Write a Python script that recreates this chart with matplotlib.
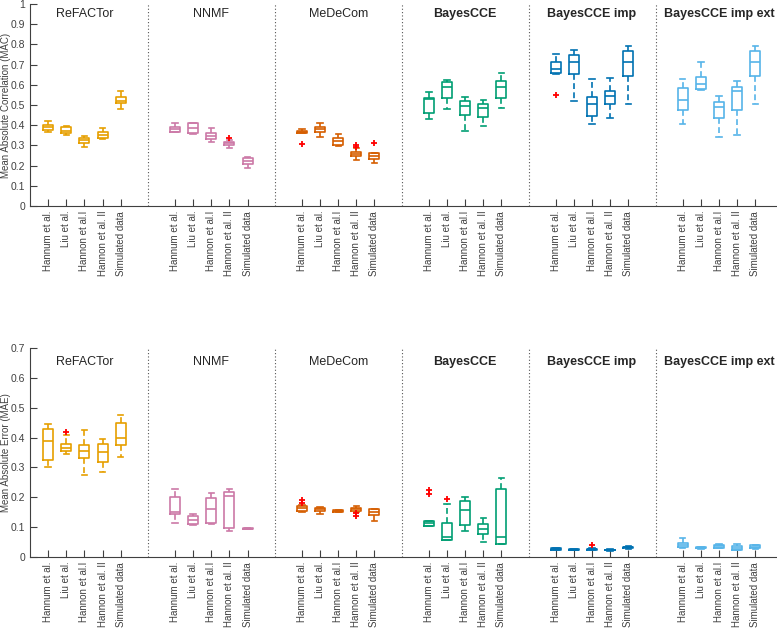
import matplotlib
matplotlib.use('Agg')
import matplotlib.pyplot as plt

# ------------------------------------------------------------------ #
#                              Data                                  #
# ------------------------------------------------------------------ #

methods = ['ReFACTor', 'NNMF', 'MeDeCom', 'BayesCCE', 'BayesCCE imp', 'BayesCCE imp ext']
datasets = ['Hannum et al.', 'Liu et al.', 'Hannon et al.I', 'Hannon et al. II', 'Simulated data']
colors = ['#E69F00', '#CC79A7', '#D55E00', '#009E73', '#0072B2', '#56B4E9']
bold_titles = [False, False, False, True, True, True]

# MAC (top panel): 6 methods x 5 datasets, in order
mac_lo = [0.366, 0.352, 0.294, 0.333, 0.479,
          0.365, 0.357, 0.315, 0.289, 0.190,
          0.360, 0.343, 0.297, 0.228, 0.211,
          0.432, 0.480, 0.373, 0.396, 0.487,
          0.652, 0.521, 0.406, 0.437, 0.503,
          0.406, 0.573, 0.343, 0.350, 0.503]
mac_q1 = [0.378, 0.360, 0.314, 0.335, 0.508,
          0.368, 0.360, 0.332, 0.302, 0.208,
          0.360, 0.365, 0.304, 0.248, 0.231,
          0.459, 0.533, 0.450, 0.439, 0.533,
          0.660, 0.653, 0.446, 0.505, 0.644,
          0.475, 0.578, 0.434, 0.475, 0.644]
mac_med = [0.390, 0.372, 0.327, 0.352, 0.521,
           0.380, 0.384, 0.347, 0.310, 0.223,
           0.366, 0.380, 0.320, 0.259, 0.248,
           0.528, 0.587, 0.495, 0.483, 0.587,
           0.678, 0.714, 0.503, 0.546, 0.713,
           0.525, 0.604, 0.492, 0.569, 0.713]
mac_q3 = [0.400, 0.390, 0.338, 0.368, 0.541,
          0.393, 0.409, 0.363, 0.318, 0.236,
          0.373, 0.389, 0.337, 0.269, 0.261,
          0.533, 0.616, 0.521, 0.505, 0.619,
          0.714, 0.746, 0.538, 0.571, 0.769,
          0.582, 0.637, 0.513, 0.587, 0.769]
mac_hi = [0.420, 0.398, 0.347, 0.384, 0.569,
          0.409, 0.412, 0.388, 0.325, 0.244,
          0.383, 0.413, 0.356, 0.287, 0.264,
          0.566, 0.622, 0.541, 0.525, 0.660,
          0.751, 0.772, 0.629, 0.632, 0.794,
          0.629, 0.713, 0.546, 0.621, 0.794]
mac_out = [[], [], [], [], [],
           [], [], [], [0.335], [],
           [0.307], [], [], [0.300, 0.292], [0.314],
           [], [], [], [], [],
           [0.550], [], [], [], [],
           [], [], [], [], []]

# MAE (bottom panel)
mae_lo = [0.302, 0.346, 0.275, 0.283, 0.335,
          0.114, 0.106, 0.111, 0.087, 0.094,
          0.152, 0.143, 0.149, 0.152, 0.121,
          0.105, 0.057, 0.088, 0.051, 0.044,
          0.024, 0.023, 0.023, 0.021, 0.028,
          0.030, 0.028, 0.030, 0.022, 0.028]
mae_q1 = [0.324, 0.356, 0.331, 0.318, 0.375,
          0.145, 0.110, 0.113, 0.096, 0.094,
          0.155, 0.153, 0.150, 0.154, 0.141,
          0.105, 0.057, 0.106, 0.078, 0.044,
          0.025, 0.024, 0.024, 0.022, 0.029,
          0.032, 0.029, 0.031, 0.023, 0.029]
mae_med = [0.387, 0.366, 0.356, 0.352, 0.400,
           0.149, 0.124, 0.160, 0.205, 0.095,
           0.163, 0.161, 0.153, 0.160, 0.150,
           0.115, 0.068, 0.158, 0.093, 0.066,
           0.027, 0.025, 0.026, 0.023, 0.032,
           0.040, 0.031, 0.036, 0.030, 0.033]
mae_q3 = [0.427, 0.378, 0.375, 0.378, 0.448,
          0.202, 0.136, 0.196, 0.217, 0.097,
          0.171, 0.165, 0.157, 0.165, 0.160,
          0.121, 0.113, 0.186, 0.110, 0.227,
          0.029, 0.026, 0.028, 0.025, 0.035,
          0.048, 0.033, 0.041, 0.036, 0.039]
mae_hi = [0.447, 0.408, 0.426, 0.396, 0.475,
          0.229, 0.144, 0.214, 0.228, 0.097,
          0.175, 0.167, 0.158, 0.171, 0.162,
          0.122, 0.178, 0.202, 0.130, 0.264,
          0.030, 0.027, 0.030, 0.026, 0.036,
          0.062, 0.034, 0.042, 0.045, 0.040]
mae_out = [[], [0.420], [], [], [],
           [], [], [], [], [],
           [0.191, 0.182], [], [], [0.146, 0.137], [],
           [0.225, 0.210], [0.195], [], [], [],
           [], [], [0.040], [], [],
           [], [], [], [], []]

# ------------------------------------------------------------------ #
#                              Plot                                  #
# ------------------------------------------------------------------ #

plt.rcParams['font.family'] = ['Liberation Sans', 'DejaVu Sans']
axis_color = '#404040'

positions = [7 * g + i + 1 for g in range(len(methods)) for i in range(len(datasets))]
labels = datasets * len(methods)

fig = plt.figure(figsize=(7.77, 6.28), dpi=100)
ax_top = fig.add_axes([0.0386, 0.672, 0.9614, 0.3216])
ax_bot = fig.add_axes([0.0386, 0.1131, 0.9614, 0.3328])


def draw_panel(ax, lo, q1, med, q3, hi, out, ymax, ylabel, title_y):
    for k, pos in enumerate(positions):
        col = colors[k // len(datasets)]
        stats = [dict(whislo=lo[k], q1=q1[k], med=med[k], q3=q3[k],
                      whishi=hi[k], fliers=out[k])]
        ax.bxp(stats, positions=[pos], widths=0.55, capwidths=0.3,
               showfliers=True, manage_ticks=False,
               boxprops=dict(color=col, linewidth=1.2),
               medianprops=dict(color=col, linewidth=1.2),
               whiskerprops=dict(color=col, linewidth=1.2, linestyle=(0, (3.5, 2))),
               capprops=dict(color=col, linewidth=1.2),
               flierprops=dict(marker='+', markeredgecolor='#ff0000',
                               markersize=5, markeredgewidth=1.3))

    for g in range(1, len(methods)):
        ax.axvline(7 * g - 0.5, color='#555555', linestyle=(0, (1, 2)), linewidth=0.8)

    for g, name in enumerate(methods):
        ax.text(7 * g + 3, title_y, name, ha='center', va='center', fontsize=9,
                color='#262626', fontweight='bold' if bold_titles[g] else 'normal')

    ax.set_xlim(0, 41.2)
    ax.set_ylim(0, ymax)
    ax.set_xticks(positions)
    ax.set_xticklabels(labels, rotation=90, fontsize=7, color=axis_color)
    yt = [i / 10 for i in range(int(round(ymax * 10)) + 1)]
    ax.set_yticks(yt)
    ax.set_yticklabels(['0' if v == 0 else ('1' if v == 1 else f'{v:.1f}') for v in yt],
                       fontsize=7.5, color=axis_color)
    ax.set_ylabel(ylabel, fontsize=7, color=axis_color)
    ax.yaxis.set_label_coords(-0.026, 0.5)
    ax.tick_params(direction='in', length=5, width=0.8, color=axis_color)
    ax.spines['top'].set_visible(False)
    ax.spines['right'].set_visible(False)
    for s in ['left', 'bottom']:
        ax.spines[s].set_color(axis_color)
        ax.spines[s].set_linewidth(0.8)


draw_panel(ax_top, mac_lo, mac_q1, mac_med, mac_q3, mac_hi, mac_out,
           1.0, 'Mean Absolute Correlation (MAC)', 0.95)
draw_panel(ax_bot, mae_lo, mae_q1, mae_med, mae_q3, mae_hi, mae_out,
           0.7, 'Mean Absolute Error (MAE)', 0.654)

fig.savefig('out.png', dpi=100)
